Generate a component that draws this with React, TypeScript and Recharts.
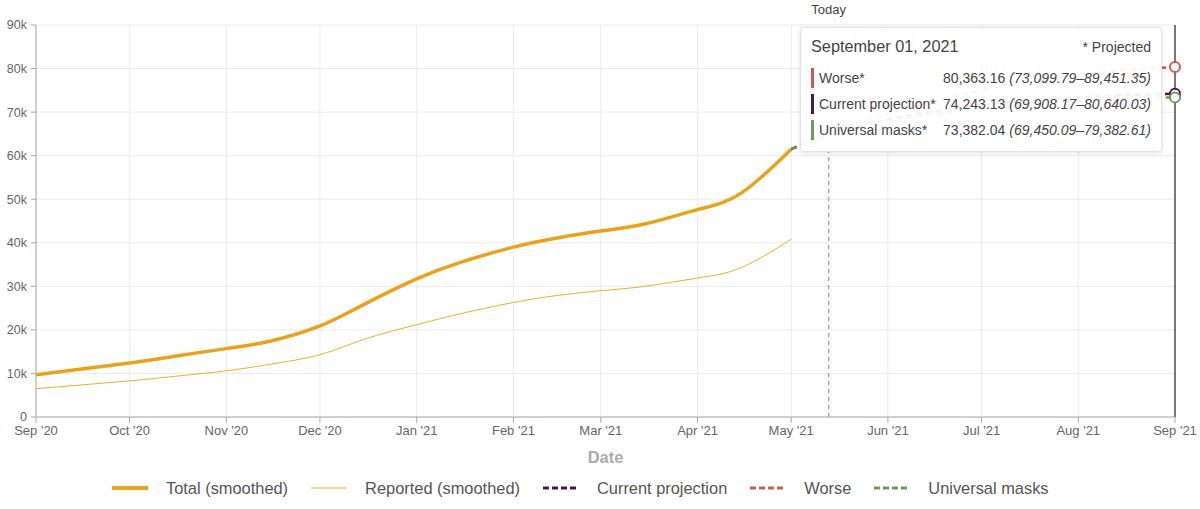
import { LineChart, Line, XAxis, YAxis, CartesianGrid, Tooltip, Legend, ReferenceLine } from 'recharts'

if (typeof document !== 'undefined') {
  document.body.style.margin = '0'
}

const dates = [
  '2020-09-01', '2020-10-01', '2020-10-15', '2020-11-01', '2020-11-15', '2020-12-01', '2020-12-15',
  '2021-01-01', '2021-01-15', '2021-02-01', '2021-02-15', '2021-03-01', '2021-03-15', '2021-04-01',
  '2021-04-15', '2021-05-01', '2021-05-15', '2021-06-01', '2021-07-01', '2021-08-01', '2021-09-01',
]

const totalSmoothed = [
  9700, 12400, 13900, 15700, 17400, 20900, 25800, 31700, 35500, 39000, 41100, 42700, 44300, 47600,
  51400, 61500, null, null, null, null, null,
]
const reportedSmoothed = [
  6500, 8300, 9300, 10600, 12100, 14300, 17800, 21200, 23700, 26300, 27900, 29000, 30000, 31900,
  34300, 40800, null, null, null, null, null,
]
const currentProjection = [
  null, null, null, null, null, null, null, null, null, null, null, null, null, null,
  null, 61500, 65400, 68300, 71600, 73400, 74243.13,
]
const worse = [
  null, null, null, null, null, null, null, null, null, null, null, null, null, null,
  null, 61500, 66000, 69500, 75000, 78600, 80363.16,
]
const universalMasks = [
  null, null, null, null, null, null, null, null, null, null, null, null, null, null,
  null, 61500, 65200, 67800, 70900, 72600, 73382.04,
]

// uncertainty ranges shown in the tooltip for Sep 01, 2021
const rangeLabels = ['Worse', 'Current projection', 'Universal masks']
const rangeLow = ['73,099.79', '69,908.17', '69,450.09']
const rangeHigh = ['89,451.35', '80,640.03', '79,382.61']

const monthTicks = [
  '2020-09-01', '2020-10-01', '2020-11-01', '2020-12-01', '2021-01-01', '2021-02-01', '2021-03-01',
  '2021-04-01', '2021-05-01', '2021-06-01', '2021-07-01', '2021-08-01', '2021-09-01',
]
const yTicks = [0, 10000, 20000, 30000, 40000, 50000, 60000, 70000, 80000, 90000]
const today = '2021-05-13'

const COLORS = {
  total: '#e9a21b',
  reported: '#ecaf2c',
  current: '#4d1941',
  worse: '#cf5a52',
  masks: '#6c9b5b',
}

const MONTHS = ['Jan', 'Feb', 'Mar', 'Apr', 'May', 'Jun', 'Jul', 'Aug', 'Sep', 'Oct', 'Nov', 'Dec']
const MONTHS_LONG = ['January', 'February', 'March', 'April', 'May', 'June', 'July', 'August', 'September', 'October', 'November', 'December']

const ts = (d: string) => {
  const [y, m, day] = d.split('-').map(Number)
  return Date.UTC(y, m - 1, day)
}

const data = dates.map((d, i) => ({
  date: ts(d),
  total: totalSmoothed[i],
  reported: reportedSmoothed[i],
  current: currentProjection[i],
  worse: worse[i],
  masks: universalMasks[i],
}))

const fmtTick = (v: number) => {
  const d = new Date(v)
  return `${MONTHS[d.getUTCMonth()]} '${String(d.getUTCFullYear()).slice(2)}`
}

const fmtNum = (v: number) =>
  v.toLocaleString('en-US', { minimumFractionDigits: 2, maximumFractionDigits: 2 })

function ProjectionTooltip({ active, payload, label }: any) {
  if (!active || !payload || !payload.length) return null
  const d = new Date(label)
  const title = `${MONTHS_LONG[d.getUTCMonth()]} ${String(d.getUTCDate()).padStart(2, '0')}, ${d.getUTCFullYear()}`
  const keyOf: Record<string, string> = { 'Worse': 'worse', 'Current projection': 'current', 'Universal masks': 'masks' }
  return (
    <div
      style={{
        width: 340,
        padding: '9px 10px 8px 10px',
        background: 'rgba(255,255,255,0.94)',
        border: '1px solid #e2e2e2',
        borderRadius: 4,
        boxShadow: '0 1px 5px rgba(0,0,0,0.12)',
        color: '#444',
      }}
    >
      <div style={{ display: 'flex', justifyContent: 'space-between', alignItems: 'baseline', marginBottom: 9 }}>
        <span style={{ fontSize: 16.3 }}>{title}</span>
        <span style={{ fontSize: 14 }}>* Projected</span>
      </div>
      {rangeLabels.map((name, i) => {
        const key = keyOf[name]
        const item = payload.find((p: any) => p.dataKey === key)
        const val = item ? item.value : 0
        return (
          <div key={name} style={{ display: 'flex', alignItems: 'center', fontSize: 14, height: 26 }}>
            <span style={{ width: 3, height: 20, background: (COLORS as any)[key], marginRight: 5 }} />
            <span style={{ width: 125, whiteSpace: 'nowrap' }}>{name}*</span>
            <span style={{ whiteSpace: 'nowrap' }}>
              {fmtNum(val)} <i>({rangeLow[i]}–{rangeHigh[i]})</i>
            </span>
          </div>
        )
      })}
    </div>
  )
}

const legendItems = [
  { label: 'Total (smoothed)', color: COLORS.total, width: 4, dash: undefined },
  { label: 'Reported (smoothed)', color: COLORS.reported, width: 1, dash: undefined },
  { label: 'Current projection', color: COLORS.current, width: 3, dash: '6 3' },
  { label: 'Worse', color: COLORS.worse, width: 3, dash: '6 3' },
  { label: 'Universal masks', color: COLORS.masks, width: 3, dash: '6 3' },
]

function LegendRow() {
  return (
    <div style={{ display: 'flex', alignItems: 'center', paddingLeft: 112, height: 24 }}>
      {legendItems.map((it) => (
        <div key={it.label} style={{ display: 'flex', alignItems: 'center', marginRight: 23 }}>
          <svg width={36} height={10} style={{ marginRight: 18 }}>
            <line x1={0} y1={5} x2={36} y2={5} stroke={it.color} strokeWidth={it.width} strokeDasharray={it.dash} />
          </svg>
          <span style={{ fontSize: 16.4, color: '#555', whiteSpace: 'nowrap' }}>{it.label}</span>
        </div>
      ))}
    </div>
  )
}

function TodayLabel({ viewBox }: any) {
  if (!viewBox) return null
  return (
    <text x={viewBox.x} y={viewBox.y - 11} textAnchor="middle" fill="#444" fontSize={13}>
      Today
    </text>
  )
}

const activeDot = (color: string) => ({ r: 5, fill: '#fff', stroke: color, strokeWidth: 2 })

export default function App() {
  return (
    <div style={{ width: 1200, height: 509, fontFamily: 'Arial, "Liberation Sans", sans-serif', background: '#fff' }}>
      <LineChart width={1200} height={509} data={data} margin={{ top: 25, right: 25, bottom: 18, left: 0 }} style={{ overflow: 'visible' }}>
        <CartesianGrid stroke="#ebebeb" />
        <XAxis
          dataKey="date"
          type="number"
          scale="time"
          domain={[ts('2020-09-01'), ts('2021-09-01')]}
          ticks={monthTicks.map(ts)}
          tickFormatter={fmtTick}
          interval={0}
          height={50}
          stroke="#aaa"
          tickSize={6}
          tickMargin={3}
          tick={{ fill: '#666', fontSize: 13 }}
          label={{ value: 'Date', position: 'insideBottom', offset: 4, fill: '#aaa', fontSize: 16.4, fontWeight: 'bold' }}
        />
        <YAxis
          type="number"
          domain={[0, 90000]}
          ticks={yTicks}
          tickFormatter={(v: number) => (v === 0 ? '0' : `${v / 1000}k`)}
          width={36}
          stroke="#aaa"
          tickSize={5}
          tickMargin={4}
          tick={{ fill: '#666', fontSize: 12.5 }}
        />
        <ReferenceLine
          x={ts(today)}
          stroke="#aaa"
          strokeDasharray="4 4"
          strokeWidth={1.5}
          label={<TodayLabel />}
        />
        <Line dataKey="total" name="Total (smoothed)" type="natural" stroke={COLORS.total} strokeWidth={3.5} dot={false} activeDot={false} isAnimationActive={false} />
        <Line dataKey="reported" name="Reported (smoothed)" type="natural" stroke={COLORS.reported} strokeWidth={1} dot={false} activeDot={false} isAnimationActive={false} />
        <Line dataKey="worse" name="Worse" type="monotone" stroke={COLORS.worse} strokeWidth={2.5} strokeDasharray="6 4" dot={false} activeDot={activeDot(COLORS.worse)} isAnimationActive={false} />
        <Line dataKey="current" name="Current projection" type="monotone" stroke={COLORS.current} strokeWidth={2.5} strokeDasharray="6 4" dot={false} activeDot={activeDot(COLORS.current)} isAnimationActive={false} />
        <Line dataKey="masks" name="Universal masks" type="monotone" stroke={COLORS.masks} strokeWidth={2.5} strokeDasharray="6 4" dot={false} activeDot={activeDot(COLORS.masks)} isAnimationActive={false} />
        <Legend content={<LegendRow />} wrapperStyle={{ top: 476, bottom: 'auto', left: 0, width: 1200, height: 24 }} />
        <Tooltip
          defaultIndex={dates.length - 1}
          active
          content={<ProjectionTooltip />}
          position={{ x: 800, y: 27 }}
          cursor={{ stroke: '#777', strokeWidth: 2 }}
          allowEscapeViewBox={{ x: true, y: true }}
          isAnimationActive={false}
        />
      </LineChart>
    </div>
  )
}
